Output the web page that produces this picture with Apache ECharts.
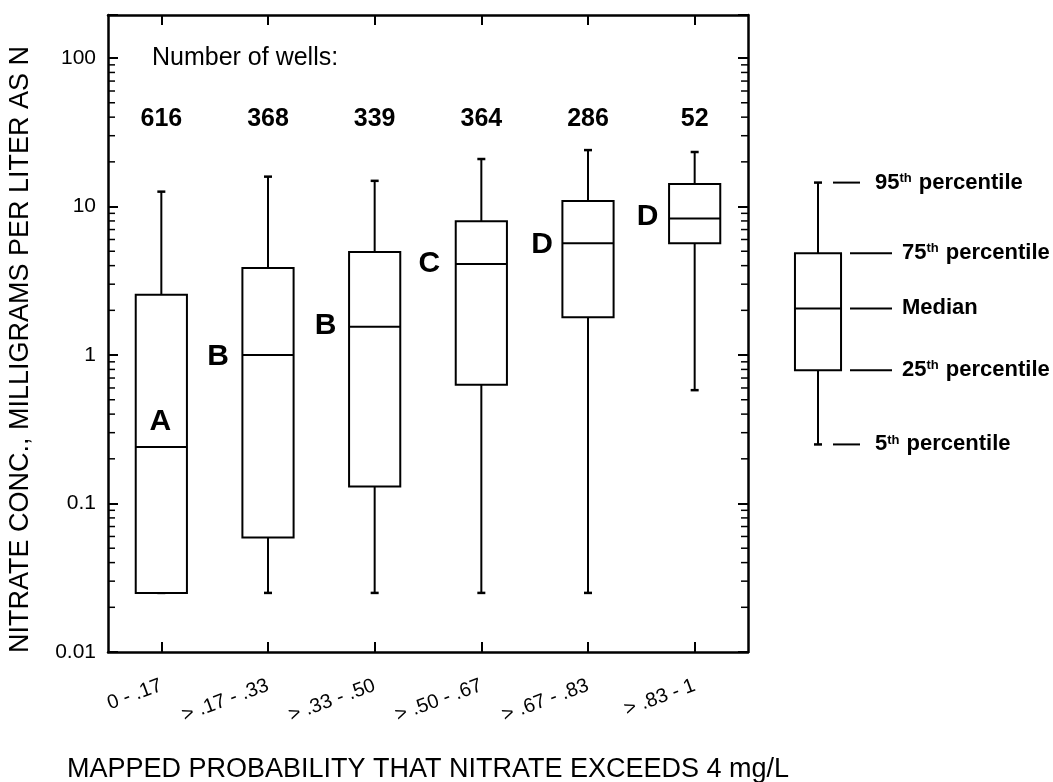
<!DOCTYPE html>
<html>
<head>
<meta charset="utf-8">
<title>Nitrate concentration by mapped probability</title>
<script src="https://cdn.jsdelivr.net/npm/echarts@6/dist/echarts.min.js"></script>
<style>
  html, body { margin: 0; padding: 0; background: #fff; }
  #chart { width: 1053px; height: 782px; }
</style>
</head>
<body>
<div id="chart"></div>
<script>
// probability classes (x axis)
var classes = ['0 - .17', '> .17 - .33', '> .33 - .50', '> .50 - .67', '> .67 - .83', '> .83 - 1'];
// percentiles, mg/L as N
var p5  = [0.025, 0.025, 0.025, 0.025, 0.025, 0.58];
var p25 = [0.025, 0.059, 0.13, 0.63, 1.8, 5.65];
var p50 = [0.24, 1.0, 1.55, 4.1, 5.65, 8.3];
var p75 = [2.55, 3.85, 4.95, 7.95, 10.9, 14.2];
var p95 = [12.6, 15.9, 14.9, 20.9, 24.0, 23.3];
var wellCounts = [616, 368, 339, 364, 286, 52];
var groupLetters = ['A', 'B', 'B', 'C', 'D', 'D'];

// explanation box
var keyValues = [0.25, 0.79, 2.06, 4.84, 14.5];
var keyLabels = ['5th percentile', '25th percentile', 'Median', '75th percentile', '95th percentile'];

// y axis ticks
var majorTicks = [0.01, 0.1, 1, 10, 100];
var minorTicks = [0.02, 0.03, 0.04, 0.05, 0.06, 0.07, 0.08, 0.09,
                  0.2, 0.3, 0.4, 0.5, 0.6, 0.7, 0.8, 0.9,
                  2, 3, 4, 5, 6, 7, 8, 9,
                  20, 30, 40, 50, 60, 70, 80, 90];

var FONT = "'Liberation Sans', Arial, Helvetica, sans-serif";
var Y_MIN = 0.01, Y_MAX = 195;
// letter placement relative to box centre / median (px)
var letterOffsets = [[-1, -25], [-50, 2], [-49, -1], [-52, 0], [-46, 1], [-47, -2]];

var chart = echarts.init(document.getElementById('chart'));

function seg(x1, y1, x2, y2, w) {
  return { type: 'line', shape: { x1: x1, y1: y1, x2: x2, y2: y2 }, style: { stroke: '#000', lineWidth: w || 2 } };
}

// box with short whisker caps
function boxParts(x, half, y) {
  var cap = 4;
  return [
    seg(x, y[3], x, y[4]),
    seg(x - cap, y[4], x + cap, y[4], 2.5),
    seg(x, y[0], x, y[1]),
    seg(x - cap, y[0], x + cap, y[0], 2.5),
    { type: 'rect', shape: { x: x - half, y: y[3], width: 2 * half, height: y[1] - y[3] },
      style: { fill: '#fff', stroke: '#000', lineWidth: 2 } },
    seg(x - half, y[2], x + half, y[2])
  ];
}

var boxData = classes.map(function (c, i) {
  return [i, p5[i], p25[i], p50[i], p75[i], p95[i]];
});

function renderBox(params, api) {
  var i = api.value(0);
  var x = api.coord([i, 1])[0];
  var half = api.size([1, 0])[0] * 0.24;
  var y = [1, 2, 3, 4, 5].map(function (k) { return api.coord([i, api.value(k)])[1]; });
  var parts = boxParts(x, half, y);
  var off = letterOffsets[i];
  parts.push({
    type: 'text', x: x + off[0], y: y[2] + off[1],
    style: { text: groupLetters[i], align: 'center', verticalAlign: 'middle',
             fontSize: 30, fontWeight: 'bold', fontFamily: FONT, fill: '#000' }
  });
  parts.push({
    type: 'text', x: x, y: 119,
    style: { text: String(wellCounts[i]), align: 'center', verticalAlign: 'middle',
             fontSize: 25, fontWeight: 'bold', fontFamily: FONT, fill: '#000' }
  });
  return { type: 'group', children: parts };
}

function renderKey(params, api) {
  var x = api.coord([0, 1])[0];
  var half = api.size([1, 0])[0] * 0.24;
  var y = [1, 2, 3, 4, 5].map(function (k) { return api.coord([0, api.value(k)])[1]; });
  var parts = boxParts(x, half, y);
  keyLabels.forEach(function (lab, k) {
    var whisker = (k === 0 || k === 4);
    var d0 = whisker ? 15 : 32, d1 = whisker ? 42 : 74, tx = whisker ? 57 : 84;
    parts.push(seg(x + d0, y[k], x + d1, y[k]));
    var m = lab.match(/^(\d+)(th)(.*)$/);
    var txt = m ? '{n|' + m[1] + '}{s|' + m[2] + '}{n|' + m[3] + '}' : '{n|' + lab + '}';
    parts.push({
      type: 'text', x: x + tx, y: y[k],
      style: {
        text: txt, align: 'left', verticalAlign: 'middle', fill: '#000',
        rich: {
          n: { fontSize: 22, fontWeight: 'bold', fontFamily: FONT, fill: '#000' },
          s: { fontSize: 13, fontWeight: 'bold', fontFamily: FONT, fill: '#000', verticalAlign: 'top', padding: [0, 1, 0, 0] }
        }
      }
    });
  });
  return { type: 'group', children: parts };
}

function renderMinor(params, api) {
  var cs = params.coordSys;
  var y = api.coord([0, api.value(1)])[1];
  return { type: 'group', children: [
    seg(cs.x, y, cs.x + 7, y, 1.5),
    seg(cs.x + cs.width - 7, y, cs.x + cs.width, y, 1.5)
  ] };
}

function powerLabel(v) {
  var r = +v.toPrecision(6);
  return majorTicks.indexOf(r) >= 0 ? String(r) : '';
}

var frameLine = { show: true, onZero: false, lineStyle: { color: '#000', width: 2.5 } };
var inTick = { show: true, inside: true, length: 10, alignWithLabel: true, lineStyle: { color: '#000', width: 2 } };

chart.setOption({
  backgroundColor: '#fff',
  animation: false,
  grid: [
    { left: 108, right: 305, top: 15, bottom: 130, outerBoundsMode: 'none', containLabel: false },
    { left: 770, width: 96, top: 15, bottom: 130, outerBoundsMode: 'none', containLabel: false }
  ],
  graphic: [{
    type: 'text', x: 152, y: 58,
    style: { text: 'Number of wells:', fontSize: 25, fontFamily: FONT, fill: '#000', verticalAlign: 'middle' }
  }],
  xAxis: [
    {
      type: 'category', gridIndex: 0, data: classes, position: 'bottom',
      axisLine: frameLine, axisTick: inTick,
      axisLabel: { rotate: 20, margin: 33, fontSize: 20, color: '#000', fontFamily: FONT, interval: 0 },
      name: 'MAPPED PROBABILITY THAT NITRATE EXCEEDS 4 mg/L', nameLocation: 'middle', nameGap: 104,
      nameTextStyle: { fontSize: 27, color: '#000', fontFamily: FONT },
      splitLine: { show: false }
    },
    {
      type: 'category', gridIndex: 0, data: classes, position: 'top',
      axisLine: frameLine, axisTick: inTick, axisLabel: { show: false }, splitLine: { show: false }
    },
    { type: 'category', gridIndex: 1, data: ['key'], show: false }
  ],
  yAxis: [
    {
      type: 'log', logBase: 10, gridIndex: 0, min: Y_MIN, max: Y_MAX, position: 'left',
      axisLine: frameLine,
      axisTick: { show: true, inside: true, length: 10, lineStyle: { color: '#000', width: 2 } },
      axisLabel: { fontSize: 21, color: '#000', fontFamily: FONT, margin: 12, formatter: powerLabel },
      splitLine: { show: false }, minorTick: { show: false },
      name: 'NITRATE CONC., MILLIGRAMS PER LITER AS N', nameLocation: 'middle', nameGap: 74,
      nameTextStyle: { fontSize: 27, color: '#000', fontFamily: FONT, padding: [0, 32, 0, 0] }
    },
    {
      type: 'log', logBase: 10, gridIndex: 0, min: Y_MIN, max: Y_MAX, position: 'right',
      axisLine: frameLine,
      axisTick: { show: true, inside: true, length: 10, lineStyle: { color: '#000', width: 2 } },
      axisLabel: { show: false }, splitLine: { show: false }
    },
    { type: 'log', logBase: 10, gridIndex: 1, min: Y_MIN, max: Y_MAX, show: false }
  ],
  series: [
    {
      type: 'custom', name: 'minor ticks', xAxisIndex: 0, yAxisIndex: 0,
      data: minorTicks.map(function (v) { return [0, v]; }),
      renderItem: renderMinor, silent: true
    },
    {
      type: 'custom', name: 'nitrate', xAxisIndex: 0, yAxisIndex: 0,
      data: boxData, encode: { x: 0, y: [1, 2, 3, 4, 5] },
      renderItem: renderBox
    },
    {
      type: 'custom', name: 'explanation', xAxisIndex: 2, yAxisIndex: 2,
      data: [[0].concat(keyValues)], encode: { x: 0, y: [1, 2, 3, 4, 5] },
      renderItem: renderKey
    }
  ]
});
</script>
</body>
</html>
